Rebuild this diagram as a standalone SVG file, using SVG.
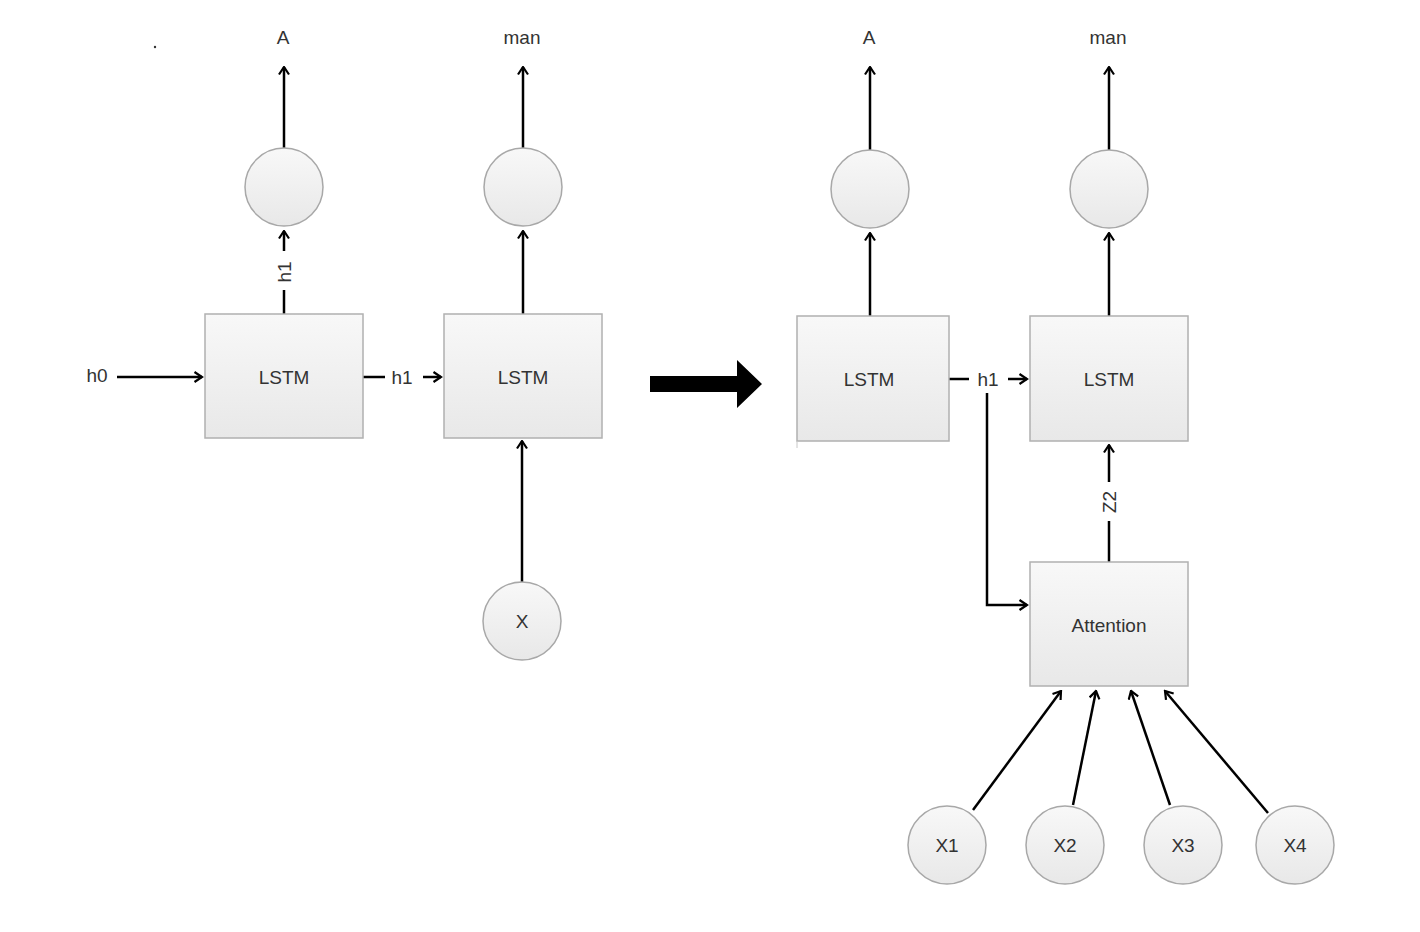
<svg xmlns="http://www.w3.org/2000/svg" width="1420" height="932" viewBox="0 0 1420 932">
<defs>
<linearGradient id="g" x1="0" y1="0" x2="0" y2="1">
<stop offset="0" stop-color="#f8f8f8"/>
<stop offset="1" stop-color="#e8e8e8"/>
</linearGradient>
<marker id="ah" viewBox="0 0 12 12" refX="10.5" refY="6" markerWidth="12" markerHeight="12" markerUnits="userSpaceOnUse" orient="auto">
<path d="M3,1 L10.5,6 L3,11" fill="none" stroke="#000" stroke-width="2.2"/>
</marker>
</defs>
<style>
.box{fill:url(#g);stroke:#b0b0b0;stroke-width:1.5}
.c{fill:url(#g);stroke:#a8a8a8;stroke-width:1.5}
.t{font-family:"Liberation Sans",Arial,sans-serif;font-size:19px;fill:#333;text-anchor:middle;dominant-baseline:central}
.l{stroke:#000;stroke-width:2.5;fill:none}
.a{stroke:#000;stroke-width:2.5;fill:none;marker-end:url(#ah)}
</style>
<rect width="1420" height="932" fill="#fff"/>
<circle cx="155" cy="47" r="1.2" fill="#333"/>

<g id="connectors">
<!-- left -->
<line class="a" x1="284" y1="148" x2="284" y2="67"/>
<line class="a" x1="523" y1="148" x2="523" y2="67"/>
<line class="l" x1="284" y1="314" x2="284" y2="290"/>
<line class="a" x1="284" y1="251" x2="284" y2="231"/>
<line class="a" x1="117" y1="377" x2="202" y2="377"/>
<line class="l" x1="363" y1="377" x2="385" y2="377"/>
<line class="a" x1="423" y1="377" x2="441" y2="377"/>
<line class="a" x1="523" y1="314" x2="523" y2="231"/>
<line class="a" x1="522" y1="582" x2="522" y2="441"/>
<!-- big arrow -->
<polygon points="650,376 737,376 737,360 762,384 737,408 737,392 650,392" fill="#000"/>
<!-- right -->
<line class="a" x1="870" y1="150" x2="870" y2="67"/>
<line class="a" x1="1109" y1="150" x2="1109" y2="67"/>
<line class="a" x1="870" y1="316" x2="870" y2="233"/>
<line class="a" x1="1109" y1="316" x2="1109" y2="233"/>
<line class="l" x1="949" y1="379" x2="969" y2="379"/>
<line class="a" x1="1008" y1="379" x2="1027" y2="379"/>
<polyline class="a" points="987,393 987,605 1027,605"/>
<line class="l" x1="1109" y1="562" x2="1109" y2="521"/>
<line class="a" x1="1109" y1="482" x2="1109" y2="445"/>
<line class="a" x1="973" y1="810" x2="1061" y2="691"/>
<line class="a" x1="1073" y1="805" x2="1096" y2="691"/>
<line class="a" x1="1170" y1="805" x2="1131" y2="691"/>
<line class="a" x1="1268" y1="813" x2="1165" y2="691"/>
<text class="t" x="284" y="272" transform="rotate(-90 284 272)">h1</text>
<text class="t" x="97" y="375">h0</text>
<text class="t" x="402" y="377">h1</text>
<text class="t" x="988" y="379">h1</text>
<text class="t" x="1109" y="502" transform="rotate(-90 1109 502)">Z2</text>
</g>

<g id="out-A-left"><text class="t" x="283" y="37">A</text></g>
<g id="out-man-left"><text class="t" x="522" y="37">man</text></g>
<g id="circle-A-left"><circle class="c" cx="284" cy="187" r="39"/></g>
<g id="circle-man-left"><circle class="c" cx="523" cy="187" r="39"/></g>
<g id="lstm1"><rect class="box" x="205" y="314" width="158" height="124"/><text class="t" x="284" y="377">LSTM</text></g>
<g id="lstm2"><rect class="box" x="444" y="314" width="158" height="124"/><text class="t" x="523" y="377">LSTM</text></g>
<g id="x"><circle class="c" cx="522" cy="621" r="39"/><text class="t" x="522" y="621">X</text></g>

<g id="out-A-right"><text class="t" x="869" y="37">A</text></g>
<g id="out-man-right"><text class="t" x="1108" y="37">man</text></g>
<g id="circle-A-right"><circle class="c" cx="870" cy="189" r="39"/></g>
<g id="circle-man-right"><circle class="c" cx="1109" cy="189" r="39"/></g>
<g id="lstm3"><rect class="box" x="797" y="316" width="152" height="125"/><line x1="797" y1="441" x2="797" y2="448" stroke="#c8c8c8" stroke-width="1"/><text class="t" x="869" y="379">LSTM</text></g>
<g id="lstm4"><rect class="box" x="1030" y="316" width="158" height="125"/><text class="t" x="1109" y="379">LSTM</text></g>
<g id="attention"><rect class="box" x="1030" y="562" width="158" height="124"/><text class="t" x="1109" y="625">Attention</text></g>
<g id="x1"><circle class="c" cx="947" cy="845" r="39"/><text class="t" x="947" y="845">X1</text></g>
<g id="x2"><circle class="c" cx="1065" cy="845" r="39"/><text class="t" x="1065" y="845">X2</text></g>
<g id="x3"><circle class="c" cx="1183" cy="845" r="39"/><text class="t" x="1183" y="845">X3</text></g>
<g id="x4"><circle class="c" cx="1295" cy="845" r="39"/><text class="t" x="1295" y="845">X4</text></g>
</svg>
